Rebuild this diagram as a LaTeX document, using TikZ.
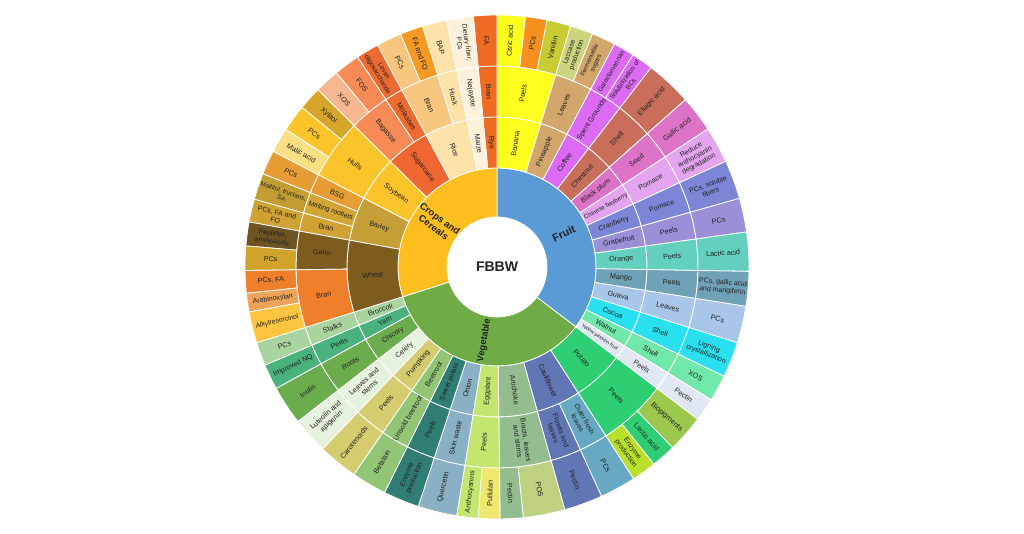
\documentclass[tikz,border=0pt]{standalone}
\usepackage{fontspec}
\setmainfont{Liberation Sans}
\definecolor{lblc}{HTML}{222222}
\newcount\segcnt
\newif\ifseglabels
\tikzset{lbl/.style={text=lblc, align=center, inner sep=0pt},
  sector/.style={draw=white, line width=0.8pt}}
\newcommand{\seg}[7][]{%
  \edef\segrin{\ifcase#2\or 50\or 99\or 150\or 201\fi}%
  \edef\segrout{\ifcase#2\or 99\or 150\or 201\or 252\fi}%
  \ifseglabels
    \global\advance\segcnt by 1
    \pgfmathsetmacro\segam{(#3+#4)/2}%
    \pgfmathsetmacro\segrmid{(\segrin+\segrout)/2}%
    \pgfmathsetmacro\segrot{ifthenelse(\segam > 90, \segam-180, ifthenelse(\segam < -90, \segam+180, \segam))}%
    \pgfmathsetmacro\segbs{#6*1.15}%
    \node[lbl, rotate=\segrot, font=\fontsize{#6}{\segbs}\selectfont#1] (s\the\segcnt) at (\segam:\segrmid) {#7};
  \else
    \definecolor{segc}{HTML}{#5}%
    \filldraw[sector, fill=segc] (#3:\segrin) arc[start angle=#3, end angle=#4, radius=\segrin] -- (#4:\segrout) arc[start angle=#4, end angle=#3, radius=\segrout] -- cycle;
  \fi
}
\newcommand{\segdata}{%
% ring 1
\seg[\bfseries]{1}{90}{-37.2}{5B9BD5}{11}{Fruit}
\seg[\bfseries]{1}{-37.2}{-162.5}{6FAC46}{9.3}{Vegetable}
\seg[\bfseries]{1}{90}{197.5}{FDBE1E}{9.5}{Crops and\\Cereals}
% Fruit
\seg{2}{90}{73}{FFFF1F}{7.2}{Banana}
\seg{3}{90}{73}{FFFF1F}{7.2}{Peels}
\seg{4}{90}{83.5}{FFFF1F}{7.2}{Citric acid}
\seg{4}{83.5}{78.5}{F7901E}{7.2}{PCs}
\seg{4}{78.5}{73}{C8CB31}{7.2}{Vanillin}
\seg{2}{73}{62.2}{D3A76C}{7.2}{Pineapple}
\seg{3}{73}{62.2}{D3A76C}{7.2}{Leaves}
\seg{4}{73}{67.7}{CCD47E}{6.8}{Laccase\\production}
\seg{4}{67.7}{62.2}{D3A76C}{6.2}{Fermentable\\sugars}
\seg{2}{62.2}{52.3}{DC6AF4}{7.2}{Coffee}
\seg{3}{62.2}{52.3}{DC6AF4}{7.2}{Spent Grounds}
\seg{4}{62.2}{57.3}{DC6AF4}{6.6}{Galactomannan}
\seg{4}{57.3}{52.3}{DC6AF4}{6.6}{Solubilization of\\BCs}
\seg{2}{52.3}{41.6}{C86E5A}{7.2}{Chestnut}
\seg{3}{52.3}{41.6}{C86E5A}{7.2}{Shell}
\seg{4}{52.3}{41.6}{C86E5A}{7.2}{Ellagic acid}
\seg{2}{41.6}{33.2}{DD73C7}{7.2}{Black plum}
\seg{3}{41.6}{33.2}{DD73C7}{7.2}{Seed}
\seg{4}{41.6}{33.2}{DD73C7}{7.2}{Gallic acid}
\seg{2}{33.2}{24.8}{E5A4F0}{6.2}{Chinese bayberry}
\seg{3}{33.2}{24.8}{E5A4F0}{7.2}{Pomace}
\seg{4}{33.2}{24.8}{E5A4F0}{7}{Reduce\\anthocyanin\\degradation}
\seg{2}{24.8}{15.8}{7D86D6}{7.2}{Cranberry}
\seg{3}{24.8}{15.8}{7D86D6}{7.2}{Pomace}
\seg{4}{24.8}{15.8}{7D86D6}{7}{PCs, soluble\\fibers}
\seg{2}{15.8}{8}{9B8FD7}{7.2}{Grapefruit}
\seg{3}{15.8}{8}{9B8FD7}{7.2}{Peels}
\seg{4}{15.8}{8}{9B8FD7}{7.2}{PCs}
\seg{2}{8}{-1}{63CFBE}{7.2}{Orange}
\seg{3}{8}{-1}{63CFBE}{7.2}{Peels}
\seg{4}{8}{-1}{63CFBE}{7.2}{Lactic acid}
\seg{2}{-1}{-9}{6FA1B7}{7.2}{Mango}
\seg{3}{-1}{-9}{6FA1B7}{7.2}{Peels}
\seg{4}{-1}{-9}{6FA1B7}{7}{PCs, gallic acid\\and mangiferin}
\seg{2}{-9}{-17.5}{A8C6E9}{7.2}{Guava}
\seg{3}{-9}{-17.5}{A8C6E9}{7.2}{Leaves}
\seg{4}{-9}{-17.5}{A8C6E9}{7.2}{PCs}
\seg{2}{-17.5}{-25.7}{28E0EF}{7.2}{Cocoa}
\seg{3}{-17.5}{-25.7}{28E0EF}{7.2}{Shell}
\seg{4}{-17.5}{-25.7}{28E0EF}{7}{Ligning\\crystallization}
\seg{2}{-25.7}{-31.8}{70E8A9}{7.2}{Walnut}
\seg{3}{-25.7}{-31.8}{70E8A9}{7.2}{Shell}
\seg{4}{-25.7}{-31.8}{70E8A9}{7.2}{XOS}
\seg{2}{-31.8}{-37.2}{E2E7F4}{5}{Yellow passion fruit}
\seg{3}{-31.8}{-37.2}{E2E7F4}{7.2}{Peels}
\seg{4}{-31.8}{-37.2}{E2E7F4}{7.2}{Pectin}
% Vegetable
\seg{2}{-37.2}{-57.2}{2ECE73}{7.2}{Potato}
\seg{3}{-37.2}{-57.2}{2ECE73}{7.2}{Peels}
\seg{4}{-37.2}{-45.8}{9CC84E}{7.2}{Biopigments}
\seg{4}{-45.8}{-51.5}{2ECE73}{7.2}{Lactic acid}
\seg{4}{-51.5}{-57.2}{B9E02A}{7}{Enzyme\\production}
\seg{2}{-57.2}{-74.4}{6176B5}{7.2}{Cauliflower}
\seg{3}{-57.2}{-65.5}{67A9C3}{6.8}{Outer fresh\\leaves}
\seg{3}{-65.5}{-74.4}{6176B5}{7}{Florets and\\leaves}
\seg{4}{-57.2}{-65.5}{67A9C3}{7.2}{PCs}
\seg{4}{-65.5}{-74.4}{6176B5}{7.2}{Pectin}
\seg{2}{-74.4}{-89.3}{93BD8F}{7.2}{Artichoke}
\seg{3}{-74.4}{-89.3}{93BD8F}{7}{Bracts, leaves\\and stems}
\seg{4}{-74.4}{-84}{BDD180}{7.2}{POS}
\seg{4}{-84}{-89.3}{93BD8F}{7.2}{Pectin}
\seg{2}{-89.3}{-99.2}{C3E76E}{7.2}{Eggplant}
\seg{3}{-89.3}{-99.2}{C3E76E}{7.2}{Peels}
\seg{4}{-89.3}{-94.3}{EFE86C}{7.2}{Pullulan}
\seg{4}{-94.3}{-99.2}{C3E76E}{7}{Anthocyanins}
\seg{2}{-99.2}{-108.2}{89B0C4}{7.2}{Onion}
\seg{3}{-99.2}{-108.2}{89B0C4}{7.2}{Skin waste}
\seg{4}{-99.2}{-108.2}{89B0C4}{7.2}{Quercetin}
\seg{2}{-108.2}{-116.5}{2F7D73}{6.8}{Sweet potato}
\seg{3}{-108.2}{-116.5}{2F7D73}{7.2}{Peels}
\seg{4}{-108.2}{-116.5}{2F7D73}{7}{Enzyme\\production}
\seg{2}{-116.5}{-124.6}{92C576}{7.2}{Beetroot}
\seg{3}{-116.5}{-124.6}{92C576}{7.2}{Unsold beetroot}
\seg{4}{-116.5}{-124.6}{92C576}{7.2}{Betalain}
\seg{2}{-124.6}{-133.8}{D5CC6F}{7.2}{Pumpking}
\seg{3}{-124.6}{-133.8}{D5CC6F}{7.2}{Peels}
\seg{4}{-124.6}{-133.8}{D5CC6F}{7.2}{Carotenoids}
\seg{2}{-133.8}{-142.2}{E6F1DE}{7.2}{Celery}
\seg{3}{-133.8}{-142.2}{E6F1DE}{7.2}{Leaves and\\stems}
\seg{4}{-133.8}{-142.2}{E6F1DE}{7.2}{Luteolin and\\apigenin}
\seg{2}{-142.2}{-151.2}{6BAC4C}{7.2}{Chicory}
\seg{3}{-142.2}{-151.2}{6BAC4C}{7.2}{Roots}
\seg{4}{-142.2}{-151.2}{6BAC4C}{7.2}{Inulin}
\seg{2}{-151.2}{-157.1}{4AB37D}{7.2}{Yam}
\seg{3}{-151.2}{-157.1}{4AB37D}{7.2}{Peels}
\seg{4}{-151.2}{-157.1}{4AB37D}{7.2}{Improved NQ}
\seg{2}{-157.1}{-162.5}{A9D39F}{7.2}{Broccoli}
\seg{3}{-157.1}{-162.5}{A9D39F}{7.2}{Stalks}
\seg{4}{-157.1}{-162.5}{A9D39F}{7.2}{PCs}
% Crops and Cereals
\seg{2}{90}{95.4}{EF6A22}{7.2}{Rye}
\seg{3}{90}{95.4}{EF6A22}{7.2}{Bran}
\seg{4}{90}{95.4}{EF6A22}{7.2}{FA}
\seg{2}{95.4}{101.6}{FDF1DB}{7.2}{Maize}
\seg{3}{95.4}{101.6}{FDF1DB}{7.2}{Nejayote}
\seg{4}{95.4}{101.6}{FDF1DB}{6.6}{Dietary fiber,\\PCs}
\seg{2}{101.6}{118.3}{FDE2AA}{7.2}{Rice}
\seg{3}{101.6}{107.2}{FDE2AA}{7.2}{Husk}
\seg{3}{107.2}{118.3}{F9C67F}{7.2}{Bran}
\seg{4}{101.6}{107.2}{FDE2AA}{7.2}{BAP}
\seg{4}{107.2}{112.5}{F49A24}{7.2}{FA and FO}
\seg{4}{112.5}{118.3}{F9C67F}{7.2}{PCs}
\seg{2}{118.3}{135.3}{EF6630}{7.2}{Sugarcane}
\seg{3}{118.3}{123.6}{EE6A2E}{7.2}{Molasses}
\seg{3}{123.6}{135.3}{F78A55}{7.2}{Bagasse}
\seg{4}{118.3}{123.6}{EE6A2E}{6.5}{Levan\\oligosaccharide}
\seg{4}{123.6}{129.6}{F78A55}{7.2}{FOS}
\seg{4}{129.6}{135.3}{F7B891}{7.2}{XOS}
\seg{2}{135.3}{152.7}{FCC42B}{7.2}{Soybean}
\seg{3}{135.3}{152.7}{FCC42B}{7.2}{Hulls}
\seg{4}{135.3}{140.7}{D6A62A}{7.2}{Xylitol}
\seg{4}{140.7}{146.9}{FCC42B}{7.2}{PCs}
\seg{4}{146.9}{152.7}{FDDF83}{7.2}{Malic acid}
\seg{2}{152.7}{169.7}{C59F35}{7.2}{Barley}
\seg{3}{152.7}{158.3}{E69D35}{7.2}{BSG}
\seg{3}{158.3}{164.4}{D2A434}{6.8}{Malting rootlets}
\seg{3}{164.4}{169.7}{D0A233}{7.2}{Bran}
\seg{4}{152.7}{158.3}{E69D35}{7.2}{PCs}
\seg{4}{158.3}{164.4}{C49D32}{6.3}{Maltitol, fructans,\\SA}
\seg{4}{164.4}{169.7}{D0A233}{7}{PCs, FA and\\FO}
\seg{2}{169.7}{197.5}{7E5C1D}{7.2}{Wheat}
\seg{3}{169.7}{180.8}{7E5C1D}{7.2}{Germ}
\seg{3}{180.8}{197.5}{F07F2B}{7.2}{Bran}
\seg{4}{169.7}{175.2}{6E5423}{6.8}{Peptides,\\aminoacids}
\seg{4}{175.2}{180.8}{D2A32B}{7.2}{PCs}
\seg{4}{180.8}{186}{F07F2B}{7.2}{PCs, FA}
\seg{4}{186}{190.3}{EEA35B}{7}{Arabinoxylan}
\seg{4}{190.3}{197.5}{FCC43F}{6.8}{Alkylresorcinol}
}
\begin{document}
\begin{tikzpicture}[x=1pt,y=1pt]
\useasboundingbox (-497,-267) rectangle (527,267);
\fill[white] (-497,-267) rectangle (527,267);
\seglabelsfalse
\segdata
\seglabelstrue
\segdata
\node[text=lblc, font=\bfseries\fontsize{14}{16}\selectfont] (c) at (0,0) {FBBW};
\end{tikzpicture}
\end{document}
